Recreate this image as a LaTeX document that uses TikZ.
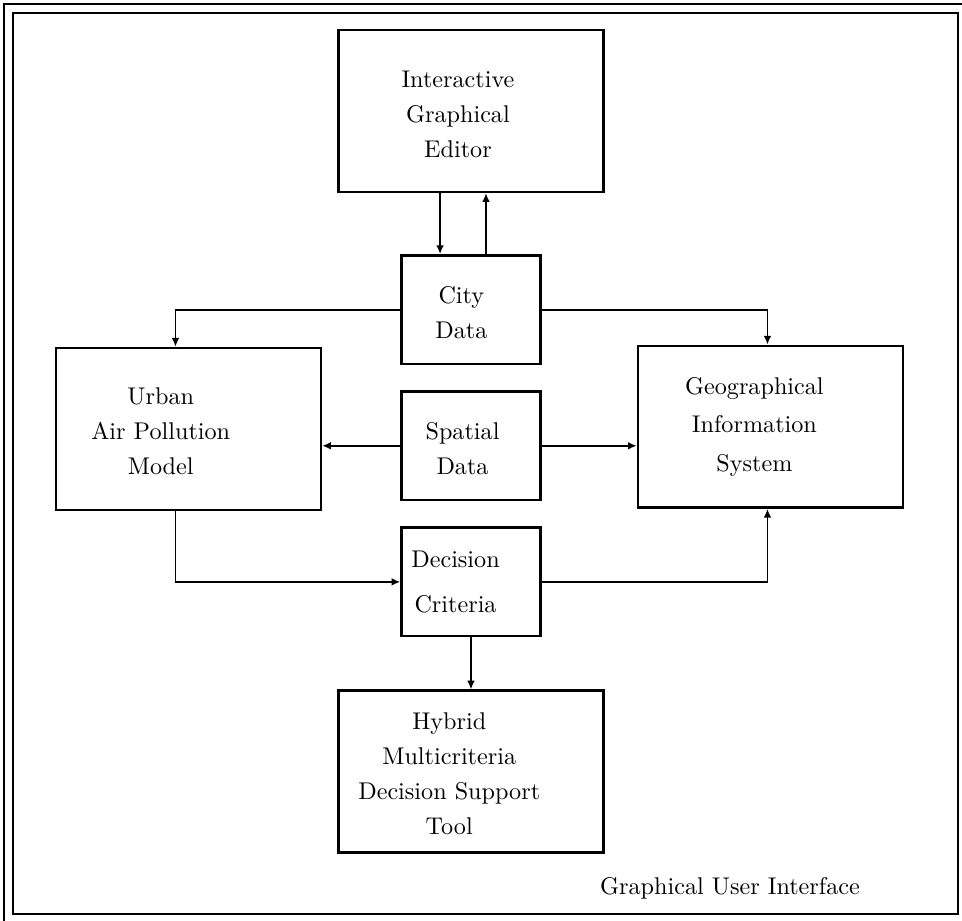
\documentclass[tikz,border=0pt]{standalone}
\usetikzlibrary{arrows.meta,positioning}

\begin{document}
\begin{tikzpicture}[x=0.4137pt, y=-0.4137pt, >={Latex[length=3.6pt,width=3.2pt]},
  box/.style={draw, line width=1pt, minimum width=109.6pt, minimum height=67pt, inner sep=0pt},
  smallbox/.style={box, minimum width=57.5pt, minimum height=45pt},
  txt/.style={align=center, font=\fontsize{10}{14.5}\selectfont},
  link/.style={->, line width=0.8pt}]
  \useasboundingbox (0,0) rectangle (962,921);
  % frame
  \draw[line width=1pt] (13,13) rectangle (958,914);
  \draw[line width=0.8pt] (4,921) -- (4,4) -- (962,4);
  % boxes
  \node[box, label={[txt, xshift=-5.4pt, yshift=-1.5pt]center:Interactive\\Graphical\\Editor}] (Editor) at (471,111) {};
  \node[smallbox, below=25.2pt of Editor, label={[txt, xshift=-4pt, yshift=-1.2pt]center:City\\Data}] (City) {};
  \node[smallbox, below=10.3pt of City, label={[txt, xshift=-3.5pt, yshift=-1pt]center:Spatial\\Data}] (Spatial) {};
  \node[smallbox, below=10.3pt of Spatial, label={[txt, font=\fontsize{10}{18.5}\selectfont, xshift=-6.4pt]center:Decision\\Criteria}] (Decision) {};
  \node[box, below=21.5pt of Decision, label={[txt, xshift=-9pt, yshift=-1pt]center:Hybrid\\Multicriteria\\Decision Support\\Tool}] (Hybrid) {};
  \node[box, left=32.3pt of Spatial, yshift=7pt, label={[txt, xshift=-11.5pt, yshift=-1pt]center:Urban\\Air Pollution\\Model}] (Urban) {};
  \node[box, right=39.3pt of Spatial, yshift=7.9pt, label={[txt, font=\fontsize{10}{16}\selectfont, xshift=-6.6pt]center:Geographical\\Information\\System}] (GIS) {};
  \node[font=\fontsize{10}{12}\selectfont] (GUI) at (730,888) {Graphical User Interface};
  % connectors
  \draw[link] ([xshift=-12.8pt]Editor.south) -- ([xshift=-12.8pt]Editor.south |- City.north);
  \draw[link] ([xshift=6.2pt]City.north) -- ([xshift=6.2pt]City.north |- Editor.south);
  \draw[link] (City.west) -| ([xshift=-5.4pt]Urban.north);
  \draw[link] (City.east) -| ([xshift=-1.2pt]GIS.north);
  \draw[link] (Spatial.west) -- (Spatial.west -| Urban.east);
  \draw[link] (Spatial.east) -- (Spatial.east -| GIS.west);
  \draw[link] ([xshift=-5.4pt]Urban.south) |- (Decision.west);
  \draw[link] (Decision.east) -| ([xshift=-1.2pt]GIS.south);
  \draw[link] (Decision.south) -- (Hybrid.north);
\end{tikzpicture}
\end{document}
